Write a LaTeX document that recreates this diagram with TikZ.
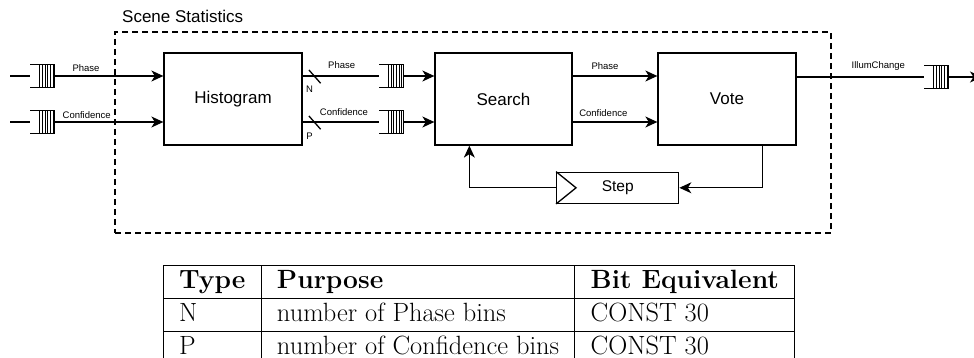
\documentclass[tikz,border=0pt]{standalone}
\usepackage{fontspec}
\usetikzlibrary{arrows.meta,calc}
\newfontfamily\diagfont{Liberation Sans}

% queue icon: open-left box with a stack of bars at its right end
\newcommand\queueicon[1]{%
  \draw[qline] (#1.north west) -- (#1.north east) -- (#1.south east) -- (#1.south west);
  \foreach \k in {1.7,4.3,7,9.7,12.3,15}
    \draw[qbar] ($(#1.north east)+(-\k,0)$) -- ($(#1.south east)+(-\k,0)$);
}
\newcommand\tabfont{\fontsize{26.4}{31.8}\selectfont
  \setlength\tabcolsep{15.8pt}\setlength\arrayrulewidth{1pt}}

\tikzset{
  blk/.style={draw, line width=1.3pt, minimum height=92pt, inner sep=0pt,
    font=\diagfont\fontsize{17}{20}\selectfont},
  que/.style={minimum width=24pt, minimum height=22pt, inner sep=0pt},
  qline/.style={line width=1.1pt},
  qbar/.style={line width=0.8pt},
  wire/.style={line width=1.3pt},
  arr/.style={wire, -{Stealth[length=12pt,width=11pt,inset=3.5pt]}},
  lbl/.style={font=\diagfont\fontsize{9.5}{11}\selectfont, inner sep=0pt,
    text height=6.8pt, text depth=0pt},
  frame/.style={draw, line width=1.1pt, dash pattern=on 6pt off 4pt,
    inner sep=0pt},
}

\begin{document}
\begin{tikzpicture}[x=1pt, y=-1pt]
\useasboundingbox (0,0) rectangle (974,358);
\clip (0,0) rectangle (974,358);

% enclosing block
\node[frame, minimum width=716pt, minimum height=201pt] (scene) at (473,132.5) {};
\node[anchor=base west, inner sep=0pt, font=\diagfont\fontsize{17}{20}\selectfont]
  (scenelbl) at (122,23) {Scene Statistics};

% processing blocks
\node[blk, minimum width=138pt] (hist)   at (233,99)   {Histogram};
\node[blk, minimum width=137pt] (search) at (503.5,99) {Search};
\node[blk, minimum width=138pt] (vote)   at (727,99)   {Vote};
\node[draw, line width=1.3pt, minimum width=122pt, minimum height=31pt, inner sep=0pt,
  font=\diagfont\fontsize{15.5}{18}\selectfont] (stepbox) at (617.7,187.8) {Step};
\draw[wire] (stepbox.north west) -- ([xshift=20pt]stepbox.west) -- (stepbox.south west);

% queues
\node[que] (qin1) at (42.5,76)  {};
\node[que] (qin2) at (42.5,122) {};
\node[que] (qh1)  at (391.3,76)  {};
\node[que] (qh2)  at (391.3,122) {};
\node[que] (qout) at (936.5,77)  {};
\queueicon{qin1}
\queueicon{qin2}
\queueicon{qh1}
\queueicon{qh2}
\queueicon{qout}

% free ends
\coordinate (src1) at (10,76);
\coordinate (src2) at (10,122);
\coordinate (sink) at (982,77);

% inputs
\draw[wire] (src1) -- (qin1.west);
\draw[wire] (src2) -- (qin2.west);
\draw[arr] (qin1.east) -- (qin1.east -| hist.west);
\draw[arr] (qin2.east) -- (qin2.east -| hist.west);

% histogram outputs
\draw[wire] (hist.east |- qh1) -- (qh1.west);
\draw[wire] (hist.east |- qh2) -- (qh2.west);
\draw[wire] ($(hist.east |- qh1)+(6.3,-6)$) -- ($(hist.east |- qh1)+(18,7.3)$);
\draw[wire] ($(hist.east |- qh2)+(6.3,-6)$) -- ($(hist.east |- qh2)+(18,7.3)$);
\draw[arr] (qh1.east) -- (qh1.east -| search.west);
\draw[arr] (qh2.east) -- (qh2.east -| search.west);

% search to vote
\draw[arr] (search.east |- qh1) -- (vote.west |- qh1);
\draw[arr] (search.east |- qh2) -- (vote.west |- qh2);

% output
\draw[wire] (vote.east |- qout) -- (qout.west);
\draw[arr] (qout.east) -- (sink);

% feedback loop
\draw[arr] ([xshift=-34.3pt]vote.south east) |- (stepbox.east);
\draw[arr] (stepbox.west) -| ([xshift=35pt]search.south west);

% connector labels
\node[lbl] (l1) at (86,68.3)    {Phase};
\node[lbl] (l2) at (86.7,115)   {Confidence};
\node[lbl] (l3) at (341.7,65)   {Phase};
\node[lbl] (l4) at (344,111.7)  {Confidence};
\node[lbl] (l5) at (605,66)     {Phase};
\node[lbl] (l6) at (603.3,112.7){Confidence};
\node[lbl] (l7) at (878.3,65.5) {IllumChange};
\node[lbl] (wN) at (309.5,89)   {N};
\node[lbl] (wP) at (309.5,136)  {P};

% parameter table
\node[anchor=north west, inner sep=0pt] (tbl) at (163,265) {\tabfont
  \begin{tabular}{|l|l|l|}
    \hline
    \textbf{Type} & \textbf{Purpose} & \textbf{Bit Equivalent}\\ \hline
    N & number of Phase bins & CONST 30\\ \hline
    P & number of Confidence bins & CONST 30\\ \hline
  \end{tabular}};
\end{tikzpicture}
\end{document}
